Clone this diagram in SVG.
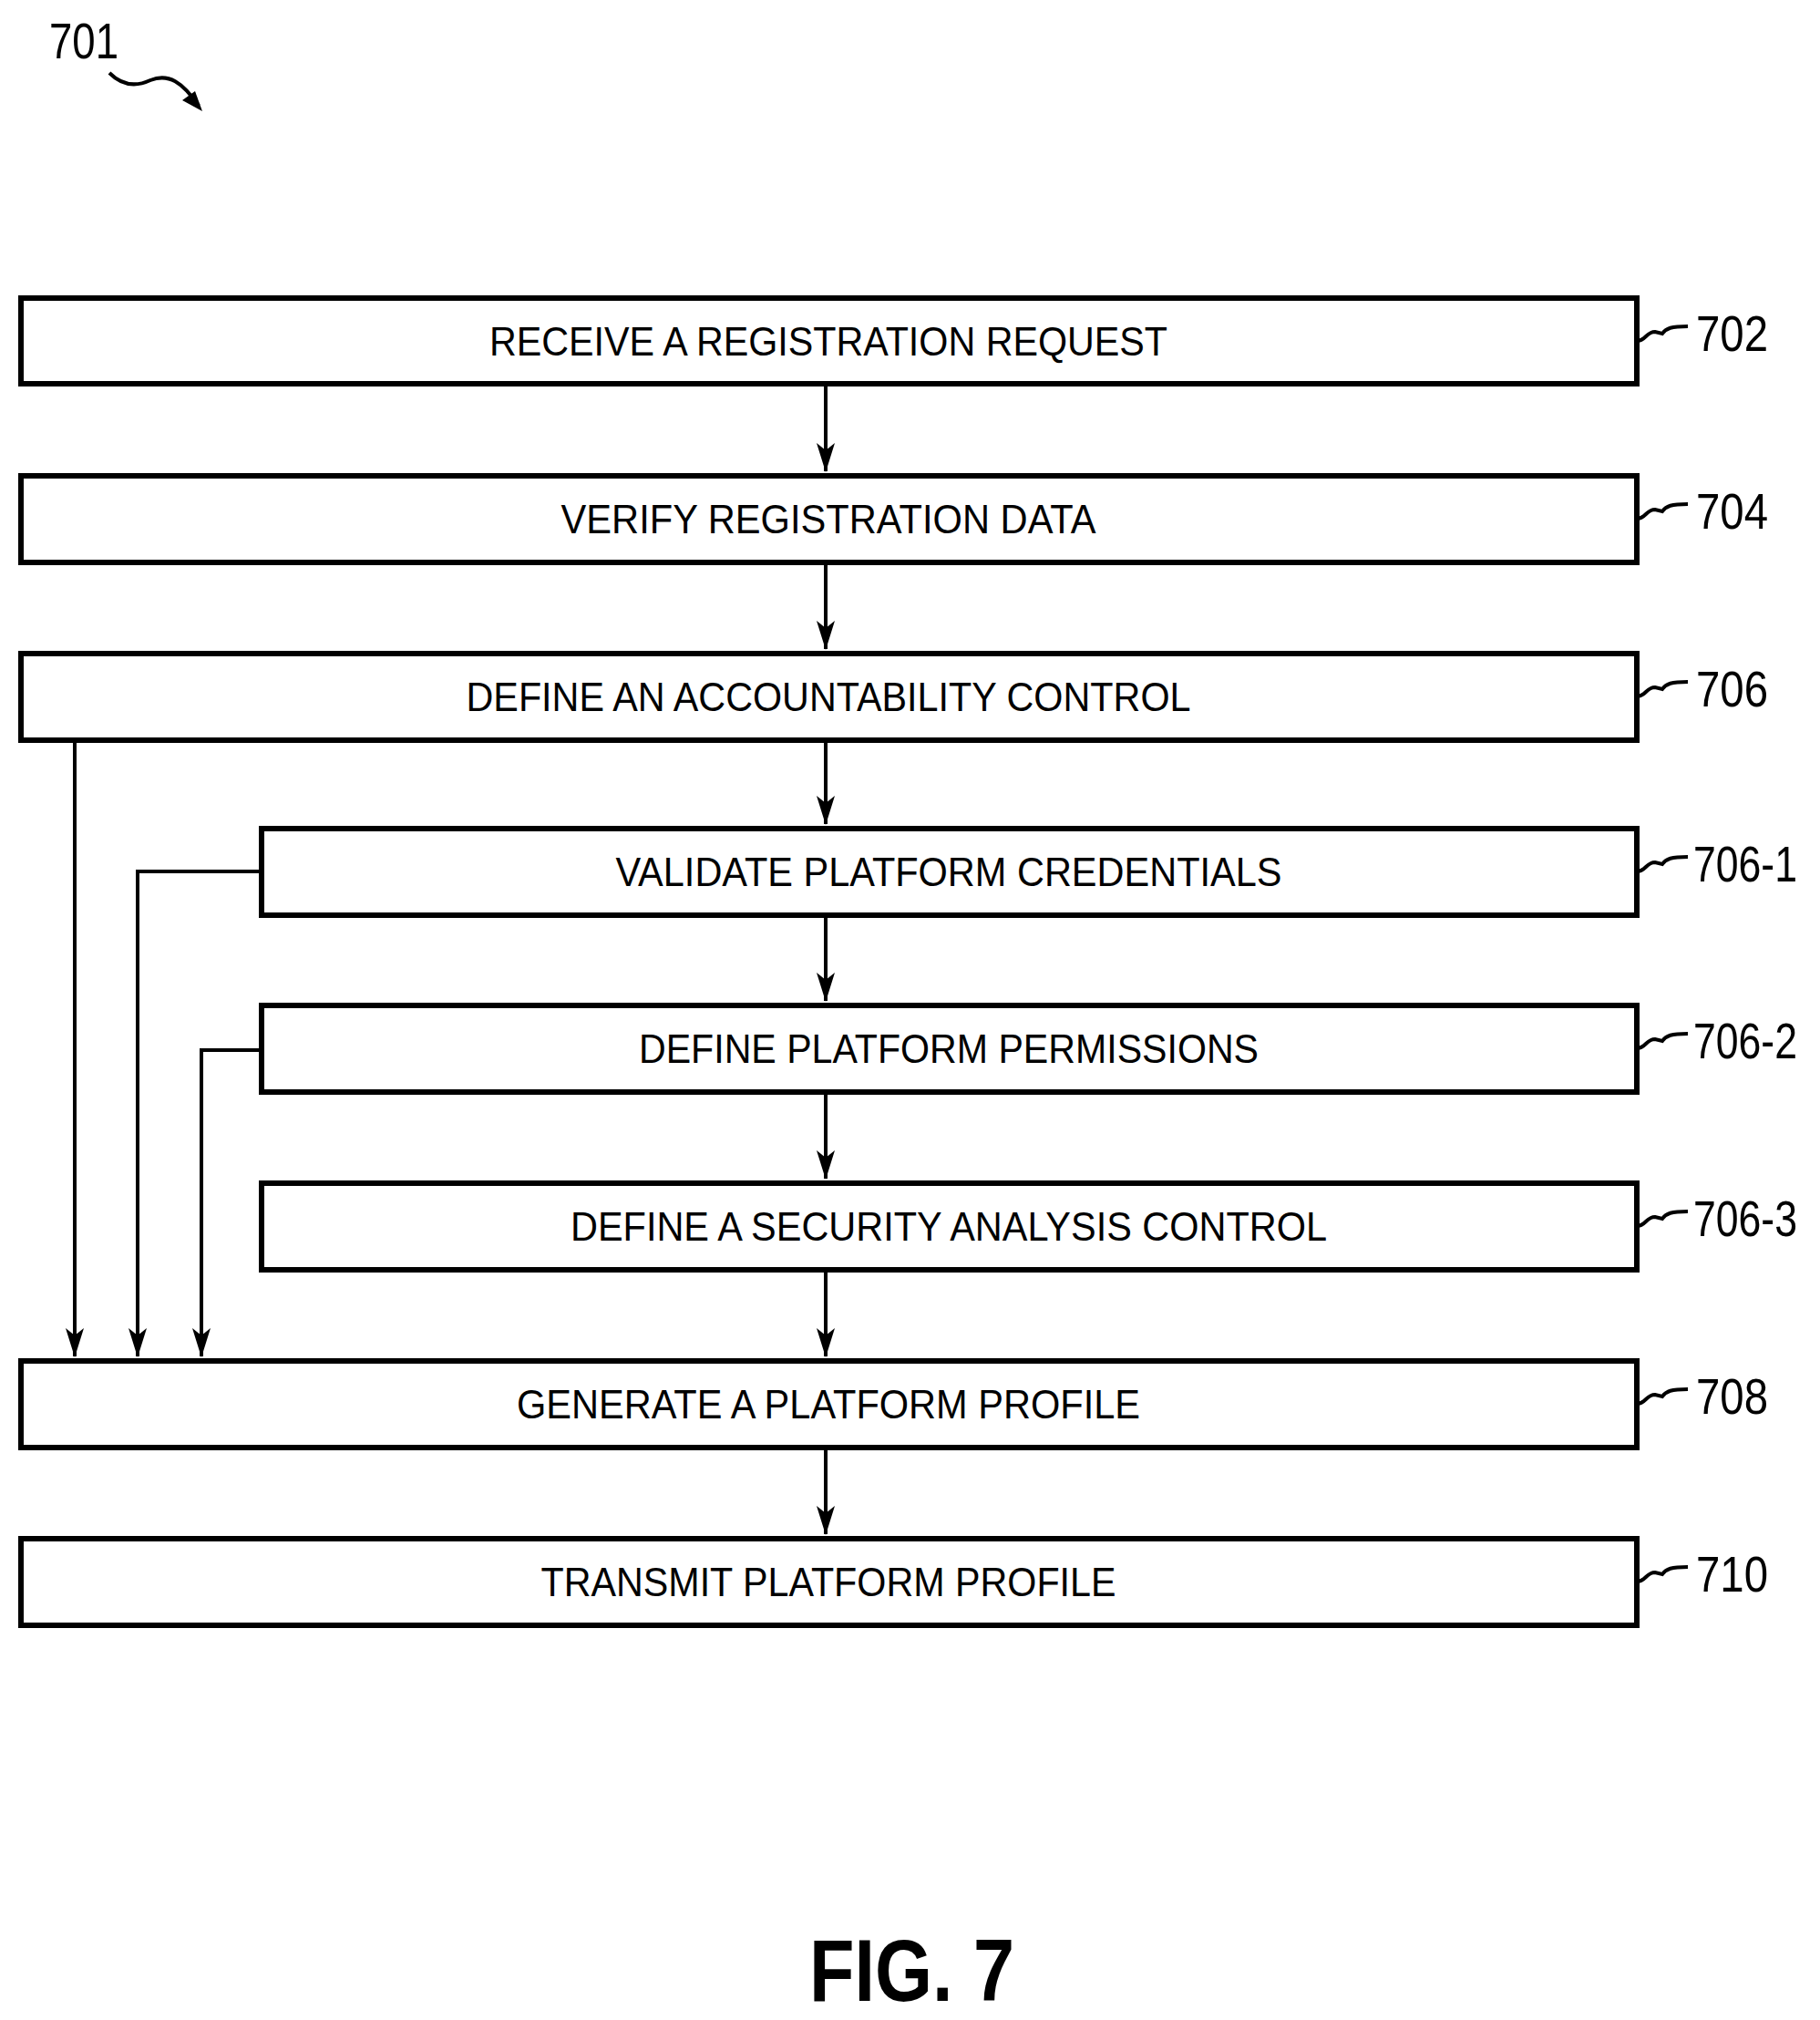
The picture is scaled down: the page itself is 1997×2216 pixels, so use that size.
<svg xmlns="http://www.w3.org/2000/svg" width="1997" height="2216" viewBox="0 0 1997 2216">
<style>
.box{fill:#fff;stroke:#000;stroke-width:6}
.t{font-family:"Liberation Sans",Arial,sans-serif;font-size:44px;text-anchor:middle}
.lb{font-family:"Liberation Sans",Arial,sans-serif;font-size:56px}
.c{fill:none;stroke:#000;stroke-width:4}
.sq{fill:none;stroke:#000;stroke-width:4}
</style>
<defs>
<marker id="ah" markerWidth="32" markerHeight="20" refX="31" refY="10" orient="auto" markerUnits="userSpaceOnUse" viewBox="0 0 32 20">
<path d="M0 0 L8 10 L0 20 L32 10 Z" fill="#000"/>
</marker>
</defs>
<rect width="1997" height="2216" fill="#fff"/>
<g id="ref701">
<text class="lb" x="54" y="64" textLength="76" lengthAdjust="spacingAndGlyphs">701</text>
<path class="sq" d="M120 80 C135 95 150 95 165 88 C185 80 200 90 218 116" />
<path d="M222 122 L200 110 L214 100 Z" fill="#000"/>
</g>
<g id="connectors">
<line class="c" x1="906" y1="424" x2="906" y2="517" marker-end="url(#ah)"/>
<line class="c" x1="906" y1="620" x2="906" y2="712" marker-end="url(#ah)"/>
<line class="c" x1="906" y1="815" x2="906" y2="904" marker-end="url(#ah)"/>
<line class="c" x1="906" y1="1007" x2="906" y2="1098" marker-end="url(#ah)"/>
<line class="c" x1="906" y1="1201" x2="906" y2="1293" marker-end="url(#ah)"/>
<line class="c" x1="906" y1="1396" x2="906" y2="1488" marker-end="url(#ah)"/>
<line class="c" x1="906" y1="1591" x2="906" y2="1683" marker-end="url(#ah)"/>
<line class="c" x1="82" y1="815" x2="82" y2="1488" marker-end="url(#ah)"/>
<polyline class="c" points="287,956 151,956 151,1488" marker-end="url(#ah)"/>
<polyline class="c" points="287,1152 221,1152 221,1488" marker-end="url(#ah)"/>
</g>
<g id="n702"><rect class="box" x="23" y="327" width="1773" height="94"/><text class="t" x="909" y="390" textLength="744" lengthAdjust="spacingAndGlyphs">RECEIVE A REGISTRATION REQUEST</text>
<path class="sq" d="M1796 374 C1806 374 1806 364 1816 364 L1824 366 C1828 360 1834 358 1852 358"/><text class="lb" x="1861" y="385" textLength="79" lengthAdjust="spacingAndGlyphs">702</text></g>
<g id="n704"><rect class="box" x="23" y="522" width="1773" height="95"/><text class="t" x="909" y="585" textLength="587" lengthAdjust="spacingAndGlyphs">VERIFY REGISTRATION DATA</text>
<path class="sq" d="M1796 569 C1806 569 1806 559 1816 559 L1824 561 C1828 555 1834 553 1852 553"/><text class="lb" x="1861" y="580" textLength="79" lengthAdjust="spacingAndGlyphs">704</text></g>
<g id="n706"><rect class="box" x="23" y="717" width="1773" height="95"/><text class="t" x="909" y="780" textLength="795" lengthAdjust="spacingAndGlyphs">DEFINE AN ACCOUNTABILITY CONTROL</text>
<path class="sq" d="M1796 764 C1806 764 1806 754 1816 754 L1824 756 C1828 750 1834 748 1852 748"/><text class="lb" x="1861" y="775" textLength="79" lengthAdjust="spacingAndGlyphs">706</text></g>
<g id="n706-1"><rect class="box" x="287" y="909" width="1509" height="95"/><text class="t" x="1041" y="972" textLength="731" lengthAdjust="spacingAndGlyphs">VALIDATE PLATFORM CREDENTIALS</text>
<path class="sq" d="M1796 956 C1806 956 1806 946 1816 946 L1824 948 C1828 942 1834 940 1852 940"/><text class="lb" x="1858" y="967" textLength="114" lengthAdjust="spacingAndGlyphs">706-1</text></g>
<g id="n706-2"><rect class="box" x="287" y="1103" width="1509" height="95"/><text class="t" x="1041" y="1166" textLength="680" lengthAdjust="spacingAndGlyphs">DEFINE PLATFORM PERMISSIONS</text>
<path class="sq" d="M1796 1150 C1806 1150 1806 1140 1816 1140 L1824 1142 C1828 1136 1834 1134 1852 1134"/><text class="lb" x="1858" y="1161" textLength="114" lengthAdjust="spacingAndGlyphs">706-2</text></g>
<g id="n706-3"><rect class="box" x="287" y="1298" width="1509" height="95"/><text class="t" x="1041" y="1361" textLength="830" lengthAdjust="spacingAndGlyphs">DEFINE A SECURITY ANALYSIS CONTROL</text>
<path class="sq" d="M1796 1345 C1806 1345 1806 1335 1816 1335 L1824 1337 C1828 1331 1834 1329 1852 1329"/><text class="lb" x="1858" y="1356" textLength="114" lengthAdjust="spacingAndGlyphs">706-3</text></g>
<g id="n708"><rect class="box" x="23" y="1493" width="1773" height="95"/><text class="t" x="909" y="1556" textLength="684" lengthAdjust="spacingAndGlyphs">GENERATE A PLATFORM PROFILE</text>
<path class="sq" d="M1796 1540 C1806 1540 1806 1530 1816 1530 L1824 1532 C1828 1526 1834 1524 1852 1524"/><text class="lb" x="1861" y="1551" textLength="79" lengthAdjust="spacingAndGlyphs">708</text></g>
<g id="n710"><rect class="box" x="23" y="1688" width="1773" height="95"/><text class="t" x="909" y="1751" textLength="631" lengthAdjust="spacingAndGlyphs">TRANSMIT PLATFORM PROFILE</text>
<path class="sq" d="M1796 1735 C1806 1735 1806 1725 1816 1725 L1824 1727 C1828 1721 1834 1719 1852 1719"/><text class="lb" x="1861" y="1746" textLength="79" lengthAdjust="spacingAndGlyphs">710</text></g>
<text x="888" y="2195" font-family="Liberation Sans,Arial,sans-serif" font-weight="bold" font-size="96" textLength="225" lengthAdjust="spacingAndGlyphs">FIG. 7</text>
</svg>
